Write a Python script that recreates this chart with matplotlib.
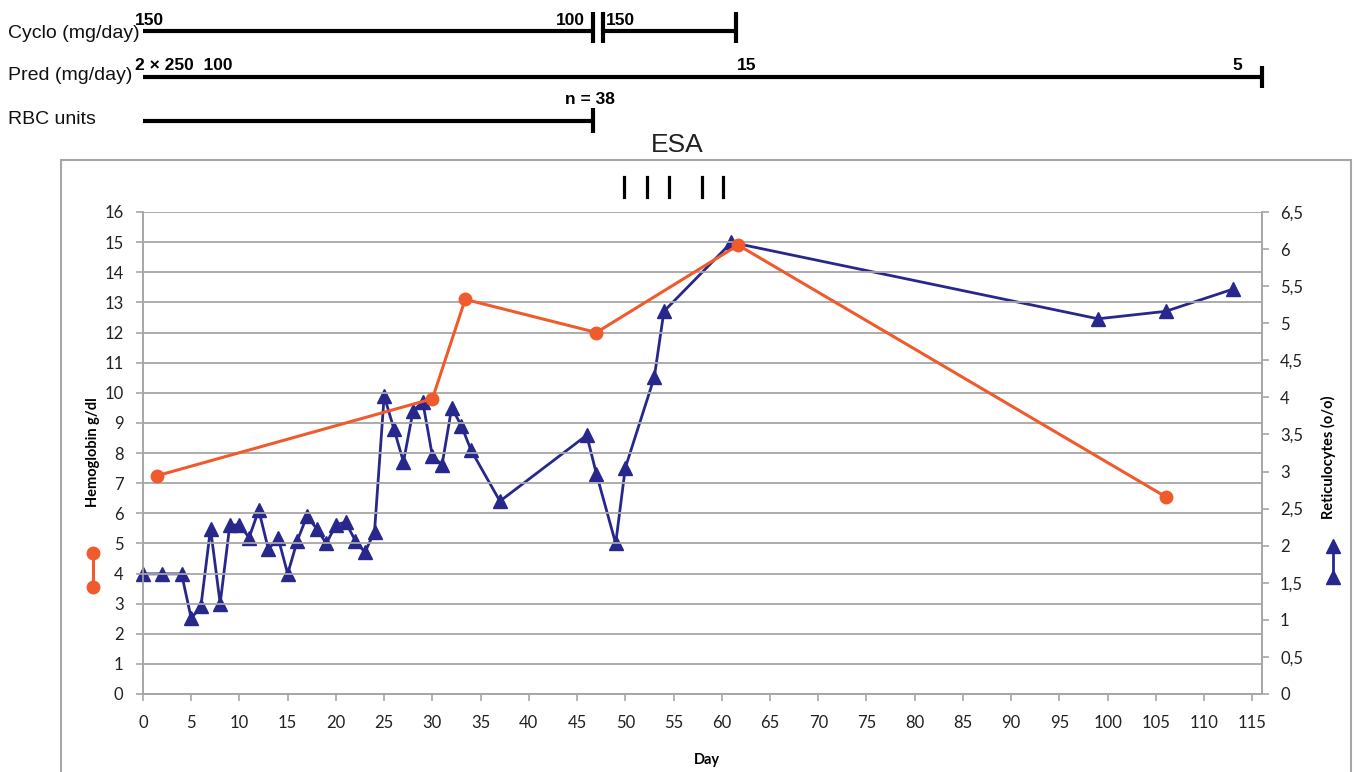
import matplotlib
matplotlib.use("Agg")
import matplotlib.pyplot as plt
import matplotlib.transforms as mtransforms
from matplotlib.lines import Line2D
from matplotlib.patches import Rectangle
from matplotlib.ticker import FuncFormatter, MultipleLocator

# ---------------- data ----------------
hb_days = [1.5, 30, 33.4, 47, 61.7, 106]
hb_values = [7.25, 9.8, 13.1, 12.0, 14.9, 6.55]

ret_days = [0, 2, 4, 5, 6, 7, 8, 9, 10, 11, 12, 13, 14, 15, 16, 17, 18, 19, 20,
            21, 22, 23, 24, 25, 26, 27, 28, 29, 30, 31, 32, 33, 34, 37, 46, 47,
            49, 50, 53, 54, 61, 99, 106, 113]
ret_values = [1.62, 1.62, 1.62, 1.02, 1.18, 2.23, 1.22, 2.28, 2.28, 2.11, 2.48,
              1.95, 2.11, 1.62, 2.07, 2.40, 2.23, 2.03, 2.28, 2.32, 2.07, 1.91,
              2.19, 4.02, 3.58, 3.13, 3.82, 3.94, 3.21, 3.09, 3.86, 3.62, 3.29,
              2.60, 3.49, 2.97, 2.03, 3.05, 4.27, 5.16, 6.09, 5.06, 5.16, 5.46]

esa_days = [49.9, 52.2, 54.5, 57.9, 60.1]

cyclo_start = [0, 47.7]
cyclo_end = [46.7, 61.5]
cyclo_labels = ["150", "100", "150"]
cyclo_label_days = [-0.8, 45.8, 48.0]
pred_start, pred_end = 0, 116
pred_labels = ["2 \u00d7 250  100", "15", "5"]
pred_label_days = [-0.8, 61.6, 113.9]
rbc_start, rbc_end = 0, 46.7
rbc_label = "n = 38"
rbc_label_day = 46.3

x_ticks = list(range(0, 120, 5))

ORANGE = "#EF5B2C"
NAVY = "#28288C"
GRID = "#A6A6A6"

W, H = 1356, 772
fig = plt.figure(figsize=(W / 100, H / 100), dpi=100)

def fx(px):
    return px / W

def fy(py):
    return 1 - py / H

ax = fig.add_axes([fx(143), fy(694), fx(1262) - fx(143), fy(212) - fy(694)])
ax2 = ax.twinx()

TICKFONT = ["Lato", "DejaVu Sans"]
NARROW = ["Liberation Sans Narrow", "Liberation Sans"]

# left axis (hemoglobin)
ax.set_xlim(0, 116)
ax.set_ylim(0, 16)
ax.yaxis.set_major_locator(MultipleLocator(1))
ax.set_xticks(x_ticks)
ax.grid(axis="y", color=GRID, lw=1.3)
ax.set_axisbelow(True)
ax.spines["top"].set_visible(False)
for s in ["left", "bottom", "right"]:
    ax.spines[s].set_color(GRID)
    ax.spines[s].set_linewidth(1.2)
ax.tick_params(axis="both", colors=GRID, labelcolor="#222222", length=5, width=1.2,
               labelsize=12)
ax.tick_params(axis="y", pad=9)
ax.tick_params(axis="x", pad=10)
for lab in ax.get_xticklabels() + ax.get_yticklabels():
    lab.set_family(TICKFONT)

ax.plot(hb_days, hb_values, color=ORANGE, lw=2.2, marker="o", ms=9,
        clip_on=False, zorder=5)

# right axis (reticulocytes)
ax2.set_ylim(0, 6.5)
ax2.yaxis.set_major_locator(MultipleLocator(0.5))
ax2.yaxis.set_major_formatter(FuncFormatter(
    lambda v, p: ("%g" % v).replace(".", ",")))
ax2.spines["top"].set_visible(False)
for s in ["left", "bottom", "right"]:
    ax2.spines[s].set_color(GRID)
    ax2.spines[s].set_linewidth(1.2)
ax2.tick_params(axis="y", colors=GRID, labelcolor="#222222", length=5, width=1.2,
                labelsize=12, pad=8)
for lab in ax2.get_yticklabels():
    lab.set_family(TICKFONT)
ax2.plot(ret_days, ret_values, color=NAVY, lw=2.0, marker="^", ms=10,
         clip_on=False, zorder=4)

# put hemoglobin axis on top
ax.set_zorder(ax2.get_zorder() + 1)
ax.patch.set_visible(False)

# axis labels
fig.text(fx(93), fy(452), "Hemoglobin g/dl", rotation=90, ha="center", va="center",
         fontsize=10.5, fontweight="bold", family=TICKFONT)
fig.text(fx(1328), fy(457), "Reticulocytes (o/o)", rotation=90, ha="center",
         va="center", fontsize=10.5, fontweight="bold", family=TICKFONT)
fig.text(fx(707), fy(760), "Day", ha="center", va="center", fontsize=10.5,
         fontweight="bold", family=TICKFONT)

# legend glyphs
fig.add_artist(Line2D([fx(93), fx(93)], [fy(553), fy(587)], color=ORANGE, lw=2.2,
                      marker="o", ms=9))
fig.add_artist(Line2D([fx(1333), fx(1333)], [fy(546), fy(577)], color=NAVY, lw=2.0))
fig.add_artist(Line2D([fx(1333), fx(1333)], [fy(546), fy(577)], color=NAVY, lw=0,
                      marker="^", ms=10))

# chart frame
fig.add_artist(Rectangle((fx(61), -0.05), fx(1351) - fx(61), fy(160) + 0.05,
                         transform=fig.transFigure, fill=False, edgecolor=GRID,
                         lw=1.5))

# ESA markers
trans = mtransforms.blended_transform_factory(ax.transData, fig.transFigure)
for d in esa_days:
    fig.add_artist(Line2D([d, d], [fy(177), fy(197)], transform=trans, color="black",
                          lw=2.3))
fig.text(fx(677), fy(145), "ESA", ha="center", va="center", fontsize=19,
         family=["Liberation Sans", "DejaVu Sans"], color="#222222")

# treatment bars
BAR_LW = 3.0
def hbar(x0, x1, y):
    fig.add_artist(Line2D([x0, x1], [fy(y), fy(y)], transform=trans, color="black",
                          lw=BAR_LW, solid_capstyle="butt"))

def vtick(x, y0, y1):
    fig.add_artist(Line2D([x, x], [fy(y0), fy(y1)], transform=trans, color="black",
                          lw=BAR_LW, solid_capstyle="butt"))

# Cyclo
for a, b in zip(cyclo_start, cyclo_end):
    hbar(a, b, 31)
vtick(cyclo_end[0], 12, 43)
vtick(cyclo_start[1], 12, 43)
vtick(cyclo_end[1], 12, 43)
fig.text(cyclo_label_days[0], fy(25), cyclo_labels[0], transform=trans, ha="left",
         va="baseline", fontsize=12.5, fontweight="bold", family=NARROW)
fig.text(cyclo_label_days[1], fy(25), cyclo_labels[1], transform=trans, ha="right",
         va="baseline", fontsize=12.5, fontweight="bold", family=NARROW)
fig.text(cyclo_label_days[2], fy(25), cyclo_labels[2], transform=trans, ha="left",
         va="baseline", fontsize=12.5, fontweight="bold", family=NARROW)

# Pred
hbar(pred_start, pred_end, 77)
vtick(pred_end, 66, 88)
fig.text(pred_label_days[0], fy(70), pred_labels[0], transform=trans, ha="left",
         va="baseline", fontsize=12.5, fontweight="bold", family=NARROW)
fig.text(pred_label_days[1], fy(70), pred_labels[1], transform=trans, ha="left",
         va="baseline", fontsize=12.5, fontweight="bold", family=NARROW)
fig.text(pred_label_days[2], fy(70), pred_labels[2], transform=trans, ha="right",
         va="baseline", fontsize=12.5, fontweight="bold", family=NARROW)

# RBC
hbar(rbc_start, rbc_end, 121)
vtick(rbc_end, 108, 133)
fig.text(rbc_label_day, fy(104), rbc_label, transform=trans, ha="center",
         va="baseline", fontsize=12.5, fontweight="bold", family=NARROW)

# row labels
for txt, y in [("Cyclo (mg/day)", 34), ("Pred (mg/day)", 75), ("RBC units", 119)]:
    fig.text(fx(8), fy(y), txt, ha="left", va="center", fontsize=14,
             family=NARROW, color="#111111")

fig.savefig("out.png", dpi=100)
